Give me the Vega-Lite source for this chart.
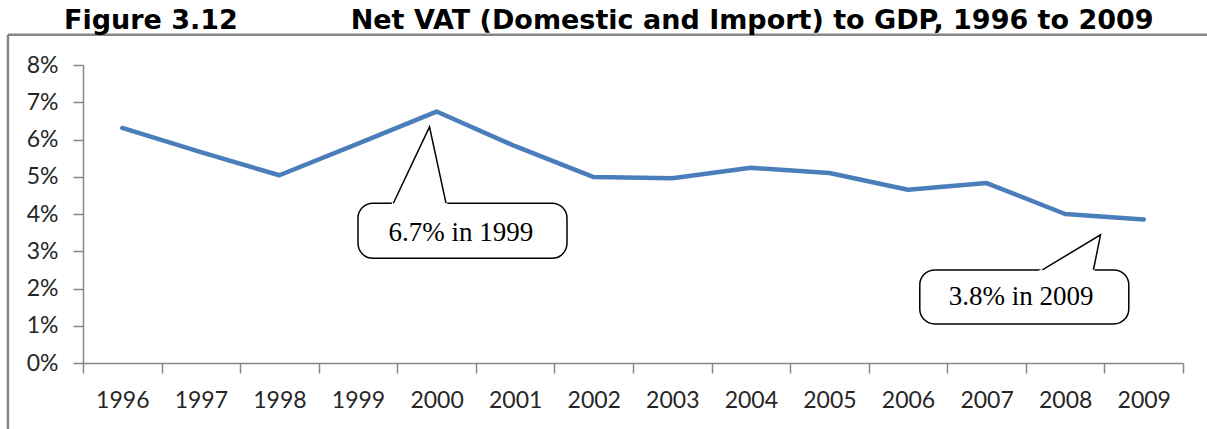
{
  "$schema": "https://vega.github.io/schema/vega-lite/v6.json",
  "width": 1100,
  "height": 298,
  "autosize": {"type": "none"},
  "padding": {"left": 83, "top": 65, "right": 24, "bottom": 66},
  "background": "white",
  "title": {
    "text": "Figure 3.12\u00a0\u00a0\u00a0\u00a0\u00a0\u00a0\u00a0\u00a0\u00a0\u00a0\u00a0\u00a0Net VAT (Domestic and Import) to GDP, 1996 to 2009",
    "anchor": "start",
    "frame": "group",
    "dx": -19,
    "dy": 26.5,
    "offset": 4,
    "baseline": "alphabetic",
    "font": "DejaVu Sans",
    "fontSize": 27,
    "fontWeight": "bold",
    "color": "#000000"
  },
  "datasets": {
    "vat": [
      {"year": 1996, "value": 6.31},
      {"year": 1997, "value": 5.66},
      {"year": 1998, "value": 5.04},
      {"year": 1999, "value": 5.89},
      {"year": 2000, "value": 6.75},
      {"year": 2001, "value": 5.82},
      {"year": 2002, "value": 4.99},
      {"year": 2003, "value": 4.96},
      {"year": 2004, "value": 5.24},
      {"year": 2005, "value": 5.10},
      {"year": 2006, "value": 4.65},
      {"year": 2007, "value": 4.83},
      {"year": 2008, "value": 4.00},
      {"year": 2009, "value": 3.85}
    ],
    "frame": [
      {"fx": 1994.545, "fx2": 1994.545, "fy": 8.81, "fy2": -3},
      {"fx": 1994.545, "fx2": 2010.5, "fy": 8.81, "fy2": 8.81}
    ],
    "boxes": [
      {"bx": 1999.0, "bx2": 2001.66, "by": 4.29, "by2": 2.81, "label": "6.7% in 1999", "tx": 2000.31, "ty": 3.49},
      {"bx": 2006.15, "bx2": 2008.81, "by": 2.50, "by2": 1.05, "label": "3.8% in 2009", "tx": 2007.44, "ty": 1.77}
    ],
    "wedges": [
      {"id": 1, "py": 4.29, "pxl": 1999.45, "pxr": 2000.12},
      {"id": 1, "py": 6.34, "pxl": 1999.91, "pxr": 1999.91},
      {"id": 2, "py": 2.50, "pxl": 2007.71, "pxr": 2008.36},
      {"id": 2, "py": 3.44, "pxl": 2008.45, "pxr": 2008.45}
    ],
    "wedgeLines": [
      {"id": 1, "ord": 0, "px": 1999.45, "py": 4.29},
      {"id": 1, "ord": 1, "px": 1999.91, "py": 6.34},
      {"id": 1, "ord": 2, "px": 2000.12, "py": 4.29},
      {"id": 2, "ord": 0, "px": 2007.71, "py": 2.50},
      {"id": 2, "ord": 1, "px": 2008.45, "py": 3.44},
      {"id": 2, "ord": 2, "px": 2008.36, "py": 2.50}
    ]
  },
  "config": {
    "view": {"stroke": null},
    "axis": {
      "labelFont": "Lato",
      "labelFontSize": 23,
      "labelColor": "#262626",
      "domainColor": "#868686",
      "tickColor": "#868686",
      "domainWidth": 1.5,
      "tickWidth": 1.5,
      "tickSize": 10,
      "grid": false,
      "labelOverlap": false,
      "labelBound": false,
      "labelFlush": false,
      "zindex": 1
    }
  },
  "layer": [
    {
      "data": {"name": "vat"},
      "mark": {"type": "line", "color": "#4A7EBB", "strokeWidth": 4.5, "strokeJoin": "round", "strokeCap": "round"},
      "encoding": {
        "x": {"field": "year", "type": "quantitative", "scale": {"domain": [1995.5, 2009.5], "nice": false, "zero": false},
          "axis": {"title": null, "values": [1995.5, 1996.5, 1997.5, 1998.5, 1999.5, 2000.5, 2001.5, 2002.5, 2003.5, 2004.5, 2005.5, 2006.5, 2007.5, 2008.5, 2009.5], "labelExpr": "datum.value < 2009 ? format(datum.value + 0.5, 'd') : ''", "labelOffset": 39.3, "labelPadding": 34, "labelBaseline": "alphabetic"}},
        "y": {"field": "value", "type": "quantitative", "scale": {"domain": [0, 8], "nice": false, "zero": true},
          "axis": {"title": null, "values": [0, 1, 2, 3, 4, 5, 6, 7, 8], "labelExpr": "datum.value + '%'", "labelPadding": 15}}
      }
    },
    {
      "data": {"name": "frame"},
      "mark": {"type": "rule", "color": "#878787", "strokeWidth": 2.5, "clip": false},
      "encoding": {
        "x": {"field": "fx", "type": "quantitative", "scale": {"domain": [1995.5, 2009.5], "nice": false, "zero": false},
          "axis": {"title": null, "values": [1995.5, 1996.5, 1997.5, 1998.5, 1999.5, 2000.5, 2001.5, 2002.5, 2003.5, 2004.5, 2005.5, 2006.5, 2007.5, 2008.5, 2009.5], "labelExpr": "datum.value < 2009 ? format(datum.value + 0.5, 'd') : ''", "labelOffset": 39.3, "labelPadding": 34, "labelBaseline": "alphabetic"}},
        "x2": {"field": "fx2"},
        "y": {"field": "fy", "type": "quantitative", "scale": {"domain": [0, 8], "nice": false, "zero": true},
          "axis": {"title": null, "values": [0, 1, 2, 3, 4, 5, 6, 7, 8], "labelExpr": "datum.value + '%'", "labelPadding": 15}},
        "y2": {"field": "fy2"}
      }
    },
    {
      "data": {"name": "boxes"},
      "mark": {"type": "rect", "fill": "white", "stroke": "black", "strokeWidth": 1.5, "cornerRadius": 15},
      "encoding": {
        "x": {"field": "bx", "type": "quantitative", "scale": {"domain": [1995.5, 2009.5], "nice": false, "zero": false},
          "axis": {"title": null, "values": [1995.5, 1996.5, 1997.5, 1998.5, 1999.5, 2000.5, 2001.5, 2002.5, 2003.5, 2004.5, 2005.5, 2006.5, 2007.5, 2008.5, 2009.5], "labelExpr": "datum.value < 2009 ? format(datum.value + 0.5, 'd') : ''", "labelOffset": 39.3, "labelPadding": 34, "labelBaseline": "alphabetic"}},
        "x2": {"field": "bx2"},
        "y": {"field": "by", "type": "quantitative", "scale": {"domain": [0, 8], "nice": false, "zero": true},
          "axis": {"title": null, "values": [0, 1, 2, 3, 4, 5, 6, 7, 8], "labelExpr": "datum.value + '%'", "labelPadding": 15}},
        "y2": {"field": "by2"}
      }
    },
    {
      "data": {"name": "wedges"},
      "mark": {"type": "area", "orient": "horizontal", "color": "white", "stroke": "white", "strokeWidth": 2.5},
      "encoding": {
        "y": {"field": "py", "type": "quantitative", "scale": {"domain": [0, 8], "nice": false, "zero": true},
          "axis": {"title": null, "values": [0, 1, 2, 3, 4, 5, 6, 7, 8], "labelExpr": "datum.value + '%'", "labelPadding": 15}},
        "x": {"field": "pxl", "type": "quantitative", "scale": {"domain": [1995.5, 2009.5], "nice": false, "zero": false},
          "axis": {"title": null, "values": [1995.5, 1996.5, 1997.5, 1998.5, 1999.5, 2000.5, 2001.5, 2002.5, 2003.5, 2004.5, 2005.5, 2006.5, 2007.5, 2008.5, 2009.5], "labelExpr": "datum.value < 2009 ? format(datum.value + 0.5, 'd') : ''", "labelOffset": 39.3, "labelPadding": 34, "labelBaseline": "alphabetic"}},
        "x2": {"field": "pxr"},
        "detail": {"field": "id"}
      }
    },
    {
      "data": {"name": "wedgeLines"},
      "mark": {"type": "line", "color": "black", "strokeWidth": 1.5},
      "encoding": {
        "x": {"field": "px", "type": "quantitative", "scale": {"domain": [1995.5, 2009.5], "nice": false, "zero": false},
          "axis": {"title": null, "values": [1995.5, 1996.5, 1997.5, 1998.5, 1999.5, 2000.5, 2001.5, 2002.5, 2003.5, 2004.5, 2005.5, 2006.5, 2007.5, 2008.5, 2009.5], "labelExpr": "datum.value < 2009 ? format(datum.value + 0.5, 'd') : ''", "labelOffset": 39.3, "labelPadding": 34, "labelBaseline": "alphabetic"}},
        "y": {"field": "py", "type": "quantitative", "scale": {"domain": [0, 8], "nice": false, "zero": true},
          "axis": {"title": null, "values": [0, 1, 2, 3, 4, 5, 6, 7, 8], "labelExpr": "datum.value + '%'", "labelPadding": 15}},
        "order": {"field": "ord"},
        "detail": {"field": "id"}
      }
    },
    {
      "data": {"name": "boxes"},
      "mark": {"type": "text", "font": "Liberation Serif", "fontSize": 27, "color": "black", "align": "center", "baseline": "middle"},
      "encoding": {
        "x": {"field": "tx", "type": "quantitative", "scale": {"domain": [1995.5, 2009.5], "nice": false, "zero": false},
          "axis": {"title": null, "values": [1995.5, 1996.5, 1997.5, 1998.5, 1999.5, 2000.5, 2001.5, 2002.5, 2003.5, 2004.5, 2005.5, 2006.5, 2007.5, 2008.5, 2009.5], "labelExpr": "datum.value < 2009 ? format(datum.value + 0.5, 'd') : ''", "labelOffset": 39.3, "labelPadding": 34, "labelBaseline": "alphabetic"}},
        "y": {"field": "ty", "type": "quantitative", "scale": {"domain": [0, 8], "nice": false, "zero": true},
          "axis": {"title": null, "values": [0, 1, 2, 3, 4, 5, 6, 7, 8], "labelExpr": "datum.value + '%'", "labelPadding": 15}},
        "text": {"field": "label"}
      }
    }
  ]
}
